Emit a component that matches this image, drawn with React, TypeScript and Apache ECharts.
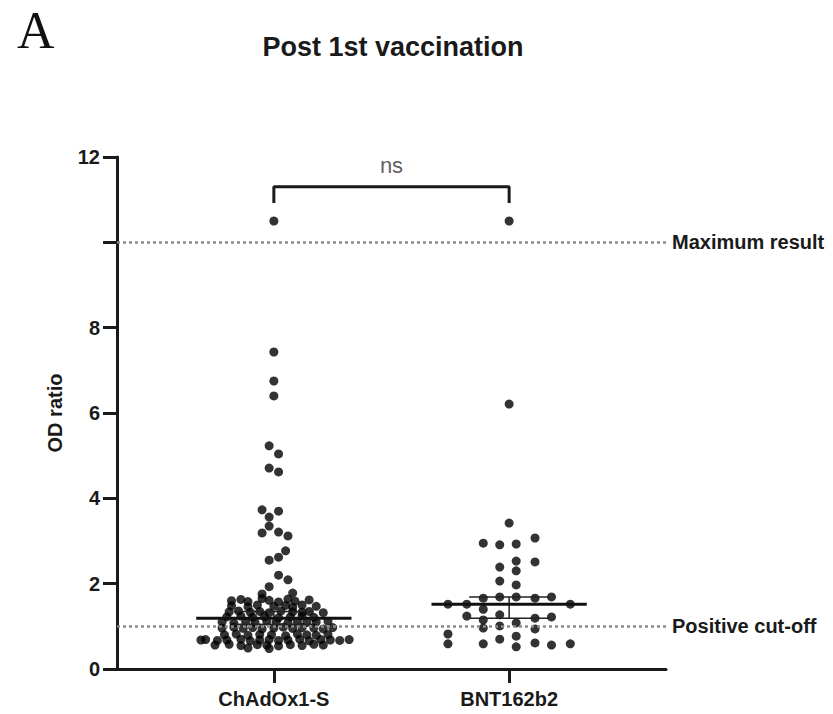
import React, { useEffect, useRef } from "react";
import * as echarts from "echarts";

const categories = ["ChAdOx1-S", "BNT162b2"];
const yTicks = [0, 2, 4, 6, 8, 10, 12];
const hiddenTickLabels = [10];

// ChAdOx1-S: OD ratio values and horizontal jitter (axis units from category centre)
const chadoxValues = [
  10.5, 7.43, 6.75, 6.4, 5.23, 5.04, 4.71, 4.62, 3.73, 3.7, 3.56, 3.35, 3.19, 3.21, 3.12, 2.77, 2.62, 2.55, 2.2, 2.09, 1.93, 1.76, 1.78,
  1.6, 1.63, 1.58, 1.65, 1.61, 1.57, 1.64, 1.59, 1.62,
  1.48, 1.46, 1.5, 1.47, 1.49, 1.45, 1.5, 1.47,
  1.34, 1.36, 1.33, 1.35, 1.32, 1.36, 1.34, 1.33, 1.35, 1.32,
  1.22, 1.24, 1.21, 1.23, 1.2, 1.22, 1.24, 1.21,
  1.1, 1.08, 1.11, 1.09, 1.12, 1.1, 1.08, 1.11, 1.09, 1.1, 1.12,
  0.96, 0.98, 0.95, 0.97, 0.94, 0.96, 0.98, 0.95, 0.97, 0.96, 0.94, 0.97,
  0.8, 0.82, 0.79, 0.81, 0.8, 0.78, 0.82, 0.8, 0.79, 0.81,
  0.68, 0.69, 0.67, 0.68, 0.7, 0.66, 0.68, 0.69, 0.67, 0.68, 0.7, 0.66, 0.69, 0.68, 0.67, 0.69,
  0.56, 0.58, 0.55, 0.57, 0.56, 0.54, 0.57, 0.55, 0.58, 0.56,
  0.49, 0.48,
];
const chadoxJitter = [
  0, 0, 0, 0, -0.02, 0.02, -0.02, 0.02, -0.05, 0.02, -0.02, -0.02, -0.05, 0.02, 0.06, 0.05, 0.02, -0.02, 0.02, 0.06, -0.02, -0.05, 0.08,
  -0.18, -0.14, -0.11, -0.05, -0.02, 0.02, 0.06, 0.09, 0.15,
  -0.18, -0.11, -0.07, 0, 0.05, 0.08, 0.12, 0.18,
  -0.19, -0.15, -0.1, -0.06, -0.02, 0.03, 0.08, 0.12, 0.15, 0.21,
  -0.2, -0.14, -0.09, -0.04, 0.02, 0.07, 0.12, 0.17,
  -0.22, -0.17, -0.12, -0.08, -0.03, 0.01, 0.06, 0.1, 0.14, 0.18, 0.23,
  -0.22, -0.17, -0.13, -0.09, -0.05, 0, 0.04, 0.08, 0.12, 0.17, 0.21, 0.25,
  -0.21, -0.16, -0.11, -0.06, -0.01, 0.05, 0.1, 0.14, 0.18, 0.23,
  -0.31, -0.29, -0.24, -0.2, -0.14, -0.1, -0.06, -0.02, 0.02, 0.06, 0.11, 0.15, 0.2, 0.24, 0.28, 0.32,
  -0.25, -0.19, -0.14, -0.07, -0.03, 0.02, 0.07, 0.12, 0.17, 0.21,
  -0.11, -0.02,
];

// BNT162b2
const bntValues = [
  10.5, 6.21, 3.42, 2.95, 2.91, 2.93, 3.07, 2.53, 2.51, 2.39, 2.3, 2.06, 1.97, 1.69, 1.69, 1.66, 1.66, 1.69,
  1.52, 1.52, 1.4, 1.52, 1.24, 1.27, 1.19, 1.22, 1.15, 1.01, 1.08, 0.96, 0.94, 0.82, 0.77, 0.7, 0.61, 0.59, 0.59,
  0.56, 0.59, 0.52,
];
const bntJitter = [
  0, 0, 0, -0.11, -0.04, 0.03, 0.11, 0.03, 0.11, -0.04, 0.03, -0.04, 0.03, -0.04, 0.03, -0.11, 0.11, 0.18,
  -0.26, -0.18, -0.11, 0.26, -0.18, -0.04, 0.11, 0.18, -0.11, -0.04, 0.03, -0.11, 0.11, -0.26, 0.03, -0.04, 0.11,
  -0.26, -0.11, 0.18, 0.26, 0.03,
];

// summary: median with interval
const medians = [1.19, 1.52];
const intervalLow = [1.05, 1.19];
const intervalHigh = [1.35, 1.69];

// reference lines
const refLines = [
  { name: "Maximum result", value: 10 },
  { name: "Positive cut-off", value: 1 },
];

// significance bracket
const bracketBottom = 10.92;
const bracketTop = 11.3;
const bracketLabel = "ns";
const bracketLabelY = 11.8;

const FONT = "'Liberation Sans', Arial, Helvetica, sans-serif";

export default function App() {
  const ref = useRef<HTMLDivElement>(null);
  useEffect(() => {
    if (!ref.current) return;
    const chart = echarts.init(ref.current, undefined, { renderer: "svg" });

    const chadoxData = chadoxValues.map((v, i) => [1 + chadoxJitter[i], v]);
    const bntData = bntValues.map((v, i) => [2 + bntJitter[i], v]);
    const summaryData = medians.map((m, i) => [i + 1, m, intervalLow[i], intervalHigh[i]]);

    const option: any = {
      animation: false,
      backgroundColor: "#fff",
      textStyle: { fontFamily: FONT },
      grid: { left: 117, right: 167, top: 157, bottom: 45, containLabel: false },
      graphic: [
        {
          type: "text",
          left: 17,
          top: 4,
          style: { text: "A", font: "52px 'Liberation Serif', 'Times New Roman', serif", fill: "#111" },
        },
        {
          type: "text",
          x: 393,
          y: 47,
          style: {
            text: "Post 1st vaccination",
            font: `bold 27px ${FONT}`,
            fill: "#1a1a1a",
            textAlign: "center",
            textVerticalAlign: "middle",
          },
        },
      ],
      xAxis: {
        type: "value",
        min: 1 / 3,
        max: 8 / 3,
        splitLine: { show: false },
        axisLine: { show: true, lineStyle: { color: "#1a1a1a", width: 3 } },
        axisTick: { show: true, customValues: [1, 2], length: 14, lineStyle: { color: "#1a1a1a", width: 3 } },
        axisLabel: {
          customValues: [1, 2],
          formatter: (v: number) => categories[Math.round(v) - 1] || "",
          margin: 20,
          fontWeight: "bold",
          fontSize: 20,
          color: "#1a1a1a",
          fontFamily: FONT,
        },
      },
      yAxis: {
        type: "value",
        min: yTicks[0],
        max: yTicks[yTicks.length - 1],
        interval: 2,
        splitLine: { show: false },
        name: "OD ratio",
        nameLocation: "middle",
        nameGap: 52,
        nameTextStyle: { fontWeight: "bold", fontSize: 20, color: "#1a1a1a", fontFamily: FONT },
        axisLine: { show: true, lineStyle: { color: "#1a1a1a", width: 3 } },
        axisTick: { show: true, length: 14, lineStyle: { color: "#1a1a1a", width: 3 } },
        axisLabel: {
          margin: 17,
          formatter: (v: number) => (hiddenTickLabels.includes(v) ? "" : String(v)),
          fontWeight: "bold",
          fontSize: 20,
          color: "#1a1a1a",
          fontFamily: FONT,
        },
      },
      series: [
        {
          type: "scatter",
          name: categories[0],
          data: chadoxData,
          symbol: "circle",
          symbolSize: 9,
          itemStyle: { color: "#000" },
          z: 3,
        },
        {
          type: "scatter",
          name: categories[1],
          data: bntData,
          symbol: "circle",
          symbolSize: 9,
          itemStyle: { color: "#000" },
          z: 3,
          markLine: {
            silent: true,
            symbol: "none",
            lineStyle: { type: [3, 3], color: "#8a8a8a", width: 2.5 },
            label: {
              show: true,
              position: "end",
              formatter: "{b}",
              fontWeight: "bold",
              fontSize: 20,
              color: "#1a1a1a",
              fontFamily: FONT,
              distance: 6,
            },
            data: refLines.map((r) => ({ name: r.name, yAxis: r.value })),
          },
        },
        {
          type: "custom",
          name: "summary",
          data: summaryData,
          z: 5,
          renderItem: (params: any, api: any) => {
            const c = api.value(0);
            const m = api.value(1);
            const lo = api.value(2);
            const hi = api.value(3);
            const mL = api.coord([c - 0.33, m]);
            const mR = api.coord([c + 0.33, m]);
            const lL = api.coord([c - 0.17, lo]);
            const lR = api.coord([c + 0.17, lo]);
            const hL = api.coord([c - 0.17, hi]);
            const hR = api.coord([c + 0.17, hi]);
            const vT = api.coord([c, hi]);
            const vB = api.coord([c, lo]);
            const thin = { stroke: "#222", lineWidth: 1.5 };
            return {
              type: "group",
              children: [
                { type: "line", shape: { x1: vT[0], y1: vT[1], x2: vB[0], y2: vB[1] }, style: thin },
                { type: "line", shape: { x1: lL[0], y1: lL[1], x2: lR[0], y2: lR[1] }, style: thin },
                { type: "line", shape: { x1: hL[0], y1: hL[1], x2: hR[0], y2: hR[1] }, style: thin },
                { type: "line", shape: { x1: mL[0], y1: mL[1], x2: mR[0], y2: mR[1] }, style: { stroke: "#111", lineWidth: 3 } },
              ],
            };
          },
        },
        {
          type: "line",
          name: "bracket",
          data: [
            [1, bracketBottom],
            [1, bracketTop],
            [2, bracketTop],
            [2, bracketBottom],
          ],
          symbol: "none",
          lineStyle: { color: "#1a1a1a", width: 3 },
          z: 4,
        },
        {
          type: "scatter",
          name: "ns",
          data: [[1.5, bracketLabelY]],
          symbolSize: 0,
          label: {
            show: true,
            position: "inside",
            formatter: bracketLabel,
            fontSize: 22,
            color: "#333",
            fontFamily: FONT,
          },
        },
      ],
    };
    chart.setOption(option);
    return () => chart.dispose();
  }, []);
  return <div ref={ref} style={{ position: "fixed", left: 0, top: 0, width: 833, height: 714, background: "#fff" }} />;
}
